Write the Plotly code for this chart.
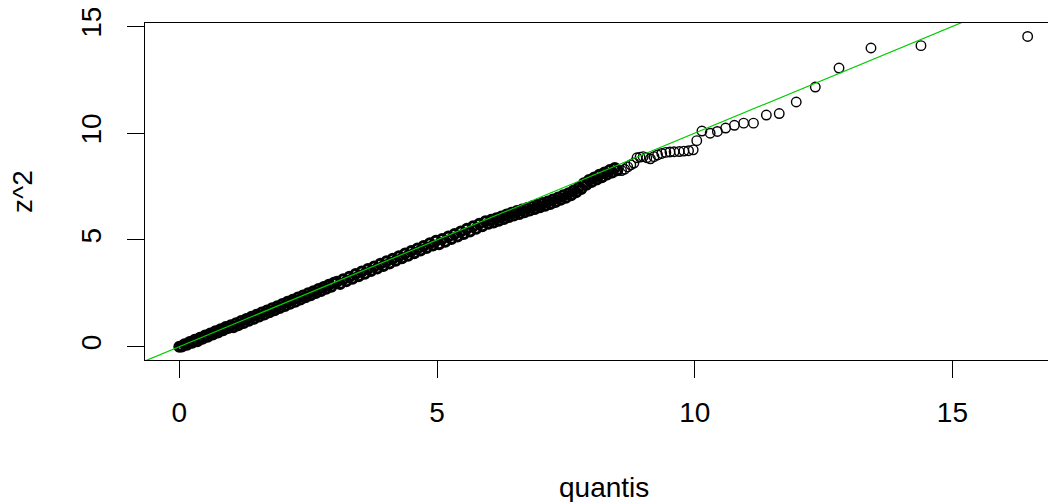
import plotly.graph_objects as go

# ---- data (theoretical chi-square quantiles vs z^2) ----
quantis_dense_a = [0.00,0.05,0.10,0.15,0.20,0.25,0.30,0.35,0.40,0.45,0.50,0.55,0.60,0.65,0.70,0.75,0.80,0.85,0.90,0.95,
                   1.00,1.05,1.10,1.15,1.20,1.25,1.30,1.35,1.40,1.45,1.50,1.55,1.60,1.65,1.70,1.75,1.80,1.85,1.90,1.95,
                   2.00,2.05,2.10,2.15,2.20,2.25,2.30,2.35,2.40,2.45,2.50,2.55,2.60,2.65,2.70,2.75,2.80,2.85,2.90,2.95,3.00]
z2_dense_a = [0.00,0.01,0.12,0.09,0.22,0.19,0.32,0.26,0.42,0.37,0.52,0.47,0.62,0.57,0.72,0.67,0.82,0.77,0.92,0.87,
              1.00,0.91,1.10,1.01,1.20,1.11,1.30,1.21,1.40,1.31,1.50,1.41,1.60,1.51,1.70,1.61,1.80,1.71,1.90,1.81,
              2.00,1.91,2.10,2.01,2.20,2.11,2.30,2.21,2.40,2.31,2.50,2.41,2.60,2.51,2.70,2.61,2.80,2.71,2.90,2.81,3.00]

quantis_dense_b = [3.06,3.12,3.18,3.24,3.30,3.36,3.42,3.48,3.54,3.60,3.66,3.72,3.78,3.84,3.90,3.96,4.02,4.08,4.14,4.20,
                   4.26,4.32,4.38,4.44,4.50,4.56,4.62,4.68,4.74,4.80,4.86,4.92,4.98,5.04,5.10,5.16,5.22,5.28,5.34,5.40,
                   5.46,5.52,5.58,5.64,5.70,5.76,5.82,5.88,5.94,6.00]
z2_dense_b = [3.04,2.94,3.16,3.06,3.28,3.18,3.40,3.30,3.52,3.42,3.64,3.54,3.76,3.66,3.88,3.78,4.00,3.90,4.12,4.02,
              4.24,4.14,4.36,4.26,4.48,4.38,4.60,4.50,4.72,4.62,4.84,4.74,4.96,4.80,5.04,4.92,5.16,5.04,5.28,5.16,
              5.40,5.28,5.52,5.40,5.64,5.52,5.76,5.64,5.88,5.76]

quantis_dense_c = [6.05,6.10,6.15,6.20,6.25,6.30,6.35,6.40,6.45,6.50,6.55,6.60,6.65,6.70,6.75,6.80,6.85,6.90,6.95,7.00,
                   7.05,7.10,7.15,7.20,7.25,7.30,7.35,7.40,7.45,7.50,7.55,7.60,7.65,7.70,7.75,7.80,7.85,7.90,7.95,8.00,
                   8.05,8.10,8.15,8.20,8.25,8.30,8.35,8.40,8.45,8.50]
z2_dense_c = [5.94,5.82,6.02,5.90,6.10,5.98,6.19,6.07,6.27,6.15,6.35,6.22,6.42,6.30,6.50,6.38,6.58,6.45,6.65,6.53,
              6.73,6.60,6.80,6.68,6.89,6.78,6.99,6.88,7.09,6.98,7.19,7.09,7.32,7.23,7.46,7.39,7.65,7.58,7.81,7.71,
              7.93,7.83,8.05,7.94,8.16,8.06,8.27,8.16,8.37,8.26]

quantis_tail = [8.58,8.64,8.70,8.76,8.82,8.88,8.94,9.00,9.07,9.14,9.21,9.28,9.36,9.44,9.52,9.60,9.70,9.79,9.88,9.97,
                10.04,10.14,10.30,10.44,10.60,10.77,10.95,11.14,11.39,11.64,11.97,12.34,12.80,13.42,14.39,16.46]
z2_tail = [8.25,8.31,8.42,8.52,8.60,8.85,8.88,8.90,8.85,8.80,8.90,8.98,9.05,9.10,9.12,9.13,9.14,9.16,9.18,9.22,
           9.65,10.10,10.00,10.08,10.24,10.37,10.47,10.47,10.85,10.92,11.46,12.16,13.05,13.99,14.10,14.53]

x_ticks = [0, 5, 10, 15]
y_ticks = [0, 5, 10, 15]
x_title = "quantis"
y_title = "z^2"

# reference line abline(0, 1)
ab_intercept = 0.0
ab_slope = 1.0

x_range = [-0.666, 17.01]
y_range = [-0.623, 15.16]

dense_x = quantis_dense_a + quantis_dense_b + quantis_dense_c
dense_y = z2_dense_a + z2_dense_b + z2_dense_c

FONT = "Liberation Sans, Arial, sans-serif"

fig = go.Figure()
# overlapping points of the dense part (thousands of points in the original form a solid band)
fig.add_trace(go.Scatter(
    x=dense_x, y=dense_y, mode="markers",
    marker=dict(symbol="circle-open", size=9, color="black", line=dict(width=3, color="black")),
    showlegend=False, hoverinfo="x+y",
))
fig.add_trace(go.Scatter(
    x=quantis_tail, y=z2_tail, mode="markers",
    marker=dict(symbol="circle-open", size=9.5, color="black", line=dict(width=1.4, color="black")),
    showlegend=False, hoverinfo="x+y",
))
line_x = [x_range[0] - 1, x_range[1] + 1]
line_y = [ab_intercept + ab_slope * v for v in line_x]
fig.add_trace(go.Scatter(
    x=line_x, y=line_y, mode="lines",
    line=dict(color="#00CC00", width=1.2),
    showlegend=False, hoverinfo="skip",
))

# the page body has an 8px default margin: compensate so the plot lands where it should
OFF = 8
W, H = 1056 - OFF, 502 - OFF
L, R, T = 145 - OFF, 0, 23 - OFF
ph = 337
B = H - T - ph
pw = W - L - R

fig.update_layout(
    width=W, height=H,
    margin=dict(l=L, r=R, t=T, b=B, pad=0),
    paper_bgcolor="white", plot_bgcolor="white",
    font=dict(family=FONT, size=28, color="black"),
    xaxis=dict(
        range=x_range, tickvals=x_ticks, ticktext=[str(v) for v in x_ticks],
        showgrid=False, zeroline=False,
        showline=True, mirror=True, linecolor="black", linewidth=1.3,
        ticks="outside", ticklen=17, tickwidth=1.3, tickcolor="black",
        ticklabelstandoff=10, ticklabeloverflow="allow",
        tickfont=dict(family=FONT, size=28, color="black"),
    ),
    yaxis=dict(
        range=y_range, tickvals=y_ticks, ticktext=[str(v) for v in y_ticks],
        showgrid=False, zeroline=False,
        showline=True, mirror=False, linecolor="black", linewidth=1.3,
        ticks="outside", ticklen=17, tickwidth=1.3, tickcolor="black",
        tickangle=-90, ticklabelstandoff=15, ticklabeloverflow="allow",
        tickfont=dict(family=FONT, size=28, color="black"),
    ),
    annotations=[
        dict(text=x_title, xref="paper", yref="paper",
             x=(604 - 145) / pw, y=(360 - 487) / ph,
             xanchor="center", yanchor="middle", showarrow=False,
             font=dict(family=FONT, size=28, color="black")),
        dict(text=y_title, xref="paper", yref="paper",
             x=(22 - 145) / pw, y=(360 - 192) / ph, textangle=-90,
             xanchor="center", yanchor="middle", showarrow=False,
             font=dict(family=FONT, size=28, color="black")),
    ],
)

fig.write_html("out.html")
